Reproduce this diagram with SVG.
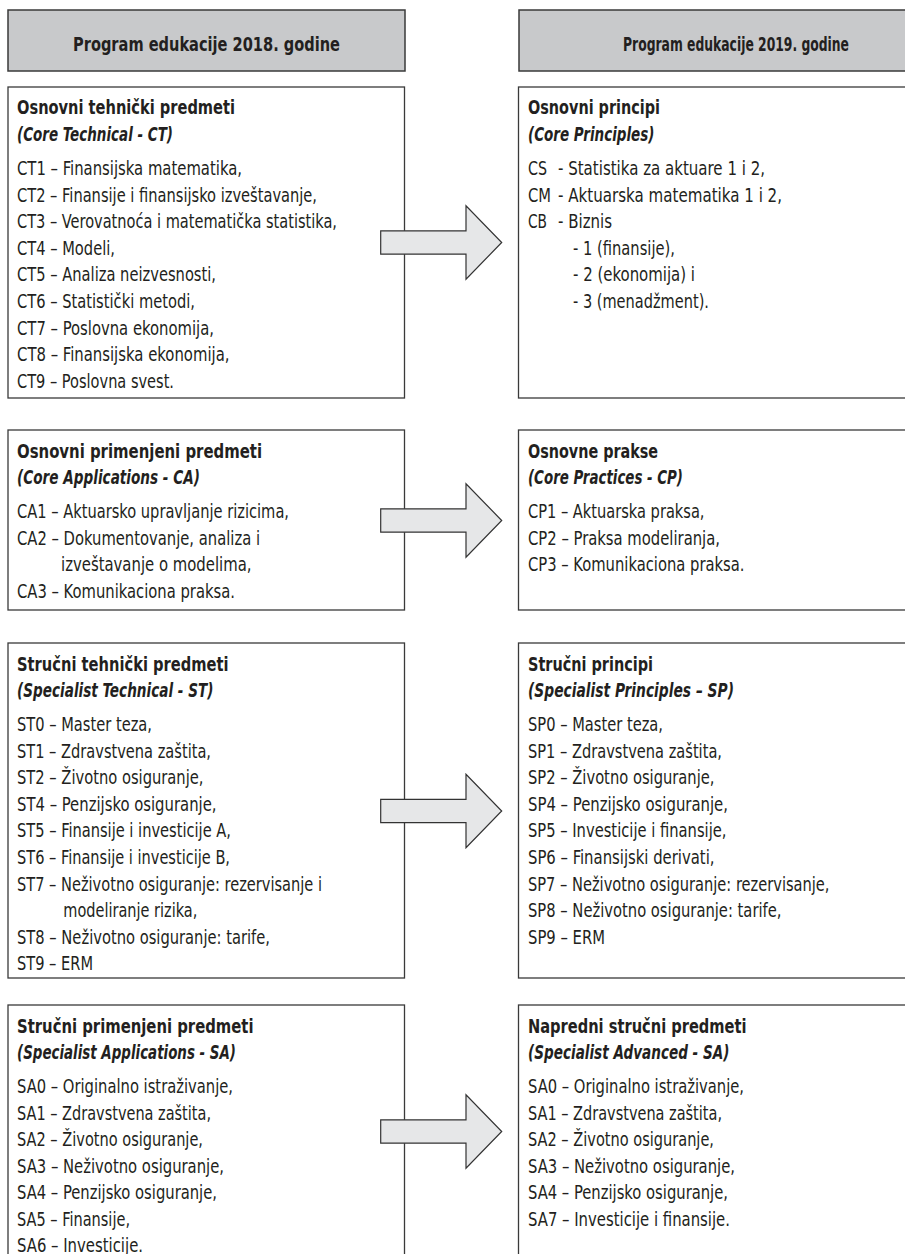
<svg xmlns="http://www.w3.org/2000/svg" width="905" height="1254" viewBox="0 0 905 1254">
<style>
.box{fill:#fff;stroke:#3a3a3a;stroke-width:1.3}
.hdr{fill:#c8c9cb;stroke:#3a3a3a;stroke-width:1.5}
.arrow{fill:#e6e7e8;stroke:#333;stroke-width:1.2;stroke-linejoin:miter}
text{font-family:"DejaVu Sans Condensed","DejaVu Sans","Liberation Sans",sans-serif;font-size:20px;fill:#231f20}
.t{font-weight:bold}
.s{font-weight:bold;font-style:italic}
.h{font-weight:bold;text-anchor:middle}
</style>
<rect width="905" height="1254" fill="#fff"/>
<g id="hdr2018">
<rect class="hdr" x="8" y="10" width="397" height="61"/>
<text class="h" x="206.5" y="50.5" textLength="267" lengthAdjust="spacingAndGlyphs">Program edukacije 2018. godine</text>
</g>
<g id="hdr2019">
<rect class="hdr" x="519" y="10" width="420" height="61"/>
<text class="h" x="736" y="50.5" textLength="226" lengthAdjust="spacingAndGlyphs">Program edukacije 2019. godine</text>
</g>
<g id="ct">
<rect class="box" x="8" y="87" width="396.5" height="311"/>
<text class="t" x="17" y="114" textLength="218" lengthAdjust="spacingAndGlyphs">Osnovni tehnički predmeti</text>
<text class="s" x="17" y="141" textLength="156" lengthAdjust="spacingAndGlyphs">(Core Technical - CT)</text>
<text x="17" y="175" textLength="225" lengthAdjust="spacingAndGlyphs">CT1 – Finansijska matematika,</text>
<text x="17" y="201.6" textLength="300" lengthAdjust="spacingAndGlyphs">CT2 – Finansije i finansijsko izveštavanje,</text>
<text x="17" y="228.2" textLength="320" lengthAdjust="spacingAndGlyphs">CT3 – Verovatnoća i matematička statistika,</text>
<text x="17" y="254.8" textLength="98" lengthAdjust="spacingAndGlyphs">CT4 – Modeli,</text>
<text x="17" y="281.4" textLength="199" lengthAdjust="spacingAndGlyphs">CT5 – Analiza neizvesnosti,</text>
<text x="17" y="308" textLength="178" lengthAdjust="spacingAndGlyphs">CT6 – Statistički metodi,</text>
<text x="17" y="334.6" textLength="197" lengthAdjust="spacingAndGlyphs">CT7 – Poslovna ekonomija,</text>
<text x="17" y="361.2" textLength="212.5" lengthAdjust="spacingAndGlyphs">CT8 – Finansijska ekonomija,</text>
<text x="17" y="387.8" textLength="157" lengthAdjust="spacingAndGlyphs">CT9 – Poslovna svest.</text>
</g>
<g id="cp_principles">
<rect class="box" x="518.5" y="87" width="420" height="311"/>
<text class="t" x="528" y="114" textLength="132" lengthAdjust="spacingAndGlyphs">Osnovni principi</text>
<text class="s" x="528" y="141" textLength="126.5" lengthAdjust="spacingAndGlyphs">(Core Principles)</text>
<text x="528" y="175" textLength="19" lengthAdjust="spacingAndGlyphs">CS</text>
<text x="558" y="175" textLength="207" lengthAdjust="spacingAndGlyphs">- Statistika za aktuare 1 i 2,</text>
<text x="528" y="201.6" textLength="23" lengthAdjust="spacingAndGlyphs">CM</text>
<text x="558" y="201.6" textLength="224" lengthAdjust="spacingAndGlyphs">- Aktuarska matematika 1 i 2,</text>
<text x="528" y="228.2" textLength="19" lengthAdjust="spacingAndGlyphs">CB</text>
<text x="558" y="228.2" textLength="54" lengthAdjust="spacingAndGlyphs">- Biznis</text>
<text x="573" y="254.8" textLength="102" lengthAdjust="spacingAndGlyphs">- 1 (finansije),</text>
<text x="573" y="281.4" textLength="122" lengthAdjust="spacingAndGlyphs">- 2 (ekonomija) i</text>
<text x="573" y="308" textLength="136" lengthAdjust="spacingAndGlyphs">- 3 (menadžment).</text>
</g>
<g id="ca">
<rect class="box" x="8" y="430" width="396.5" height="180"/>
<text class="t" x="17" y="457.5" textLength="245" lengthAdjust="spacingAndGlyphs">Osnovni primenjeni predmeti</text>
<text class="s" x="17" y="484" textLength="183" lengthAdjust="spacingAndGlyphs">(Core Applications - CA)</text>
<text x="17" y="518" textLength="272" lengthAdjust="spacingAndGlyphs">CA1 – Aktuarsko upravljanje rizicima,</text>
<text x="17" y="544.6" textLength="243" lengthAdjust="spacingAndGlyphs">CA2 – Dokumentovanje, analiza i</text>
<text x="61" y="571.2" textLength="190.5" lengthAdjust="spacingAndGlyphs">izveštavanje o modelima,</text>
<text x="17" y="597.8" textLength="218" lengthAdjust="spacingAndGlyphs">CA3 – Komunikaciona praksa.</text>
</g>
<g id="cpr">
<rect class="box" x="518.5" y="430" width="420" height="180"/>
<text class="t" x="528" y="457.5" textLength="130" lengthAdjust="spacingAndGlyphs">Osnovne prakse</text>
<text class="s" x="528" y="484" textLength="155" lengthAdjust="spacingAndGlyphs">(Core Practices - CP)</text>
<text x="528" y="518" textLength="176.5" lengthAdjust="spacingAndGlyphs">CP1 – Aktuarska praksa,</text>
<text x="528" y="544.6" textLength="192" lengthAdjust="spacingAndGlyphs">CP2 – Praksa modeliranja,</text>
<text x="528" y="571.2" textLength="216.5" lengthAdjust="spacingAndGlyphs">CP3 – Komunikaciona praksa.</text>
</g>
<g id="st">
<rect class="box" x="8" y="643" width="396.5" height="335"/>
<text class="t" x="17" y="670.5" textLength="211.5" lengthAdjust="spacingAndGlyphs">Stručni tehnički predmeti</text>
<text class="s" x="17" y="697" textLength="196.5" lengthAdjust="spacingAndGlyphs">(Specialist Technical - ST)</text>
<text x="17" y="731" textLength="135" lengthAdjust="spacingAndGlyphs">ST0 – Master teza,</text>
<text x="17" y="757.6" textLength="194" lengthAdjust="spacingAndGlyphs">ST1 – Zdravstvena zaštita,</text>
<text x="17" y="784.2" textLength="186.5" lengthAdjust="spacingAndGlyphs">ST2 – Životno osiguranje,</text>
<text x="17" y="810.8" textLength="199.5" lengthAdjust="spacingAndGlyphs">ST4 – Penzijsko osiguranje,</text>
<text x="17" y="837.4" textLength="214" lengthAdjust="spacingAndGlyphs">ST5 – Finansije i investicije A,</text>
<text x="17" y="864" textLength="213" lengthAdjust="spacingAndGlyphs">ST6 – Finansije i investicije B,</text>
<text x="17" y="890.6" textLength="305" lengthAdjust="spacingAndGlyphs">ST7 – Neživotno osiguranje: rezervisanje i</text>
<text x="63.3" y="917.2" textLength="134" lengthAdjust="spacingAndGlyphs">modeliranje rizika,</text>
<text x="17" y="943.8" textLength="253" lengthAdjust="spacingAndGlyphs">ST8 – Neživotno osiguranje: tarife,</text>
<text x="17" y="970.4" textLength="76" lengthAdjust="spacingAndGlyphs">ST9 – ERM</text>
</g>
<g id="sp">
<rect class="box" x="518.5" y="643" width="420" height="335"/>
<text class="t" x="528" y="670.5" textLength="125" lengthAdjust="spacingAndGlyphs">Stručni principi</text>
<text class="s" x="528" y="697" textLength="206" lengthAdjust="spacingAndGlyphs">(Specialist Principles – SP)</text>
<text x="528" y="731" textLength="135" lengthAdjust="spacingAndGlyphs">SP0 – Master teza,</text>
<text x="528" y="757.6" textLength="194" lengthAdjust="spacingAndGlyphs">SP1 – Zdravstvena zaštita,</text>
<text x="528" y="784.2" textLength="186.5" lengthAdjust="spacingAndGlyphs">SP2 – Životno osiguranje,</text>
<text x="528" y="810.8" textLength="200" lengthAdjust="spacingAndGlyphs">SP4 – Penzijsko osiguranje,</text>
<text x="528" y="837.4" textLength="198.5" lengthAdjust="spacingAndGlyphs">SP5 – Investicije i finansije,</text>
<text x="528" y="864" textLength="186.5" lengthAdjust="spacingAndGlyphs">SP6 – Finansijski derivati,</text>
<text x="528" y="890.6" textLength="301.5" lengthAdjust="spacingAndGlyphs">SP7 – Neživotno osiguranje: rezervisanje,</text>
<text x="528" y="917.2" textLength="253.5" lengthAdjust="spacingAndGlyphs">SP8 – Neživotno osiguranje: tarife,</text>
<text x="528" y="943.8" textLength="77" lengthAdjust="spacingAndGlyphs">SP9 – ERM</text>
</g>
<g id="sa">
<rect class="box" x="8" y="1005" width="396.5" height="270"/>
<text class="t" x="17" y="1032.5" textLength="236.5" lengthAdjust="spacingAndGlyphs">Stručni primenjeni predmeti</text>
<text class="s" x="17" y="1059" textLength="219" lengthAdjust="spacingAndGlyphs">(Specialist Applications - SA)</text>
<text x="17" y="1093" textLength="216" lengthAdjust="spacingAndGlyphs">SA0 – Originalno istraživanje,</text>
<text x="17" y="1119.6" textLength="194" lengthAdjust="spacingAndGlyphs">SA1 – Zdravstvena zaštita,</text>
<text x="17" y="1146.2" textLength="186" lengthAdjust="spacingAndGlyphs">SA2 – Životno osiguranje,</text>
<text x="17" y="1172.8" textLength="207" lengthAdjust="spacingAndGlyphs">SA3 – Neživotno osiguranje,</text>
<text x="17" y="1199.4" textLength="200" lengthAdjust="spacingAndGlyphs">SA4 – Penzijsko osiguranje,</text>
<text x="17" y="1226" textLength="113" lengthAdjust="spacingAndGlyphs">SA5 – Finansije,</text>
<text x="17" y="1251.5" textLength="126" lengthAdjust="spacingAndGlyphs">SA6 – Investicije.</text>
</g>
<g id="sadv">
<rect class="box" x="518.5" y="1005" width="420" height="270"/>
<text class="t" x="528" y="1032.5" textLength="218.5" lengthAdjust="spacingAndGlyphs">Napredni stručni predmeti</text>
<text class="s" x="528" y="1059" textLength="201.5" lengthAdjust="spacingAndGlyphs">(Specialist Advanced - SA)</text>
<text x="528" y="1093" textLength="216" lengthAdjust="spacingAndGlyphs">SA0 – Originalno istraživanje,</text>
<text x="528" y="1119.6" textLength="194" lengthAdjust="spacingAndGlyphs">SA1 – Zdravstvena zaštita,</text>
<text x="528" y="1146.2" textLength="186" lengthAdjust="spacingAndGlyphs">SA2 – Životno osiguranje,</text>
<text x="528" y="1172.8" textLength="207" lengthAdjust="spacingAndGlyphs">SA3 – Neživotno osiguranje,</text>
<text x="528" y="1199.4" textLength="200" lengthAdjust="spacingAndGlyphs">SA4 – Penzijsko osiguranje,</text>
<text x="528" y="1226" textLength="202" lengthAdjust="spacingAndGlyphs">SA7 – Investicije i finansije.</text>
</g>
<g id="connectors">
<polygon class="arrow" points="380.7,230.8 466,230.8 466,205.8 501.7,242.5 466,279.2 466,254.2 380.7,254.2"/>
<polygon class="arrow" points="380.7,508.8 466,508.8 466,483.8 501.7,520.5 466,557.2 466,532.2 380.7,532.2"/>
<polygon class="arrow" points="380.7,799.3 466,799.3 466,774.3 501.7,811 466,847.7 466,822.7 380.7,822.7"/>
<polygon class="arrow" points="380.7,1119.8 466,1119.8 466,1094.8 501.7,1131.5 466,1168.2 466,1143.2 380.7,1143.2"/>
</g>
</svg>
